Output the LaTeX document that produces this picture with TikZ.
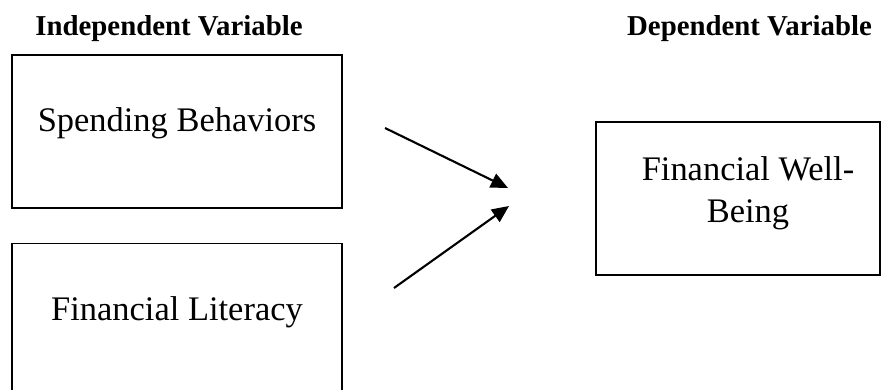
\documentclass[tikz,border=0pt]{standalone}
\usepackage{fontspec}
\setmainfont{Liberation Serif}
\usepackage{tikz}
\usetikzlibrary{arrows.meta}
\usetikzlibrary{calc}
\usetikzlibrary{positioning}

\begin{document}
\begin{tikzpicture}[scale=1,auto,node distance=0.68cm,semithick]
	\tikzstyle{varbox}=[draw, rectangle, line width=0.9pt, inner sep=0pt, text height=1.53cm, text depth=1.53cm, font={\fontsize{19.6}{23.9}\selectfont}]
	\tikzstyle{head}=[anchor=base, font={\bfseries\fontsize{16.4}{20}\selectfont}]
	\tikzstyle{link}=[-{Triangle[length=0.34cm,width=0.3cm]}, line width=1.2pt]
	\useasboundingbox (0,0) rectangle (17.82,-7.8);
			\node[head] (iv) at (3.38,-0.72) {Independent Variable};
			\node[head] (dv) at (14.99,-0.72) {Dependent Variable};
			\node[varbox, minimum width=6.6cm] (sb) at (3.54,-2.63) {Spending Behaviors};
			\node[varbox, minimum width=6.6cm] (fl) [below=of sb] {Financial Literacy};
			\node[varbox, minimum width=5.68cm] (fwb) at (14.76,-3.97) {};
			\node[anchor=base, align=center, font={\fontsize{19.6}{23.9}\selectfont}] (fwbt) at (14.96,-4.44) {Financial Well-\\Being};
			\coordinate (a1) at (7.7,-2.56);
			\coordinate (b1) at (10.16,-3.76);
			\coordinate (a2) at (7.88,-5.76);
			\coordinate (b2) at (10.18,-4.12);
			\draw[link] (a1) -- (b1);
			\draw[link] (a2) -- (b2);
\end{tikzpicture}
\end{document}
